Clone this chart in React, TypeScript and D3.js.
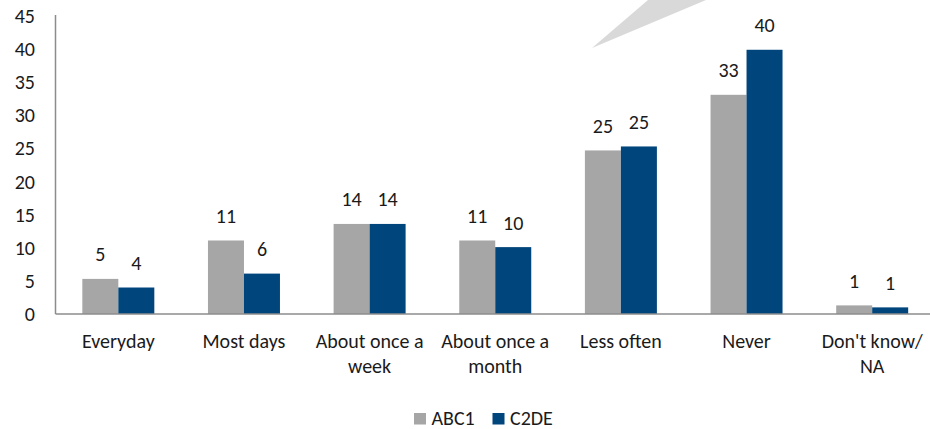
import React from "react";
import * as d3 from "d3";

// Frequency by social grade (%)
const categories = [
  "Everyday",
  "Most days",
  "About once a week",
  "About once a month",
  "Less often",
  "Never",
  "Don't know/ NA",
];
const categoryLines = [
  ["Everyday"],
  ["Most days"],
  ["About once a", "week"],
  ["About once a", "month"],
  ["Less often"],
  ["Never"],
  ["Don't know/", "NA"],
];
const seriesNames = ["ABC1", "C2DE"];
const abc1Values = [5.3, 11.1, 13.6, 11.1, 24.7, 33.1, 1.3];
const c2deValues = [4.0, 6.1, 13.6, 10.1, 25.3, 39.9, 1.0];
const yTicks = [0, 5, 10, 15, 20, 25, 30, 35, 40, 45];

const colors: Record<string, string> = { ABC1: "#a6a6a6", C2DE: "#00457c" };
const FONT = "Carlito, Calibri, Lato, sans-serif";
const FS = 20;

export default function App() {
  const width = 930;
  const height = 429;
  const x0 = 55.5;
  const x1 = 935;
  const yBase = 314;
  const yTop = 16;

  const x = d3
    .scaleBand<string>()
    .domain(categories)
    .range([x0, x1])
    .paddingInner(0.427)
    .paddingOuter(0.2135);
  const xs = d3
    .scaleBand<string>()
    .domain(seriesNames)
    .range([0, x.bandwidth()])
    .padding(0);
  const y = d3.scaleLinear().domain([0, 45]).range([yBase, yTop]);

  const series = [
    { name: "ABC1", values: abc1Values },
    { name: "C2DE", values: c2deValues },
  ];

  return (
    <svg
      width={width}
      height={height}
      style={{ position: "absolute", left: 0, top: 0, background: "#fff" }}
      fontFamily={FONT}
    >
      {/* callout pointer */}
      <polygon points="592,48 648,0 706,0" fill="#d9d9d9" />

      {/* y axis */}
      <line x1={x0} x2={x0} y1={yTop - 1} y2={yBase} stroke="#8c8c8c" strokeWidth={1.5} />
      {yTicks.map((t) => (
        <text
          key={t}
          x={35}
          y={y(t)}
          dy="0.35em"
          textAnchor="end"
          fontSize={FS}
          fill="#1a1a1a"
        >
          {t}
        </text>
      ))}

      {/* bars */}
      {series.map((s) =>
        categories.map((c, i) => {
          const bx = (x(c) ?? 0) + (xs(s.name) ?? 0);
          const v = s.values[i];
          return (
            <g key={s.name + c}>
              <rect
                x={bx}
                y={y(v)}
                width={xs.bandwidth()}
                height={yBase - y(v)}
                fill={colors[s.name]}
              />
              <text
                x={bx + xs.bandwidth() / 2}
                y={y(v) - 17.5}
                textAnchor="middle"
                fontSize={FS}
                fill="#1a1a1a"
              >
                {Math.round(v)}
              </text>
            </g>
          );
        })
      )}

      {/* x axis */}
      <line x1={x0} x2={width} y1={yBase} y2={yBase} stroke="#8c8c8c" strokeWidth={1.5} />
      {categories.map((c, i) => (
        <text
          key={c}
          x={(x(c) ?? 0) + x.bandwidth() / 2}
          y={348}
          textAnchor="middle"
          fontSize={FS}
          fill="#1a1a1a"
        >
          {categoryLines[i].map((line, j) => (
            <tspan key={j} x={(x(c) ?? 0) + x.bandwidth() / 2} y={348 + j * 25}>
              {line}
            </tspan>
          ))}
        </text>
      ))}

      {/* legend */}
      {seriesNames.map((name, i) => {
        const lx = 414 + i * 78.5;
        return (
          <g key={name}>
            <rect x={lx} y={413} width={12} height={11.5} fill={colors[name]} />
            <text x={lx + 17.5} y={424.5} fontSize={FS} fill="#1a1a1a">
              {name}
            </text>
          </g>
        );
      })}
    </svg>
  );
}
